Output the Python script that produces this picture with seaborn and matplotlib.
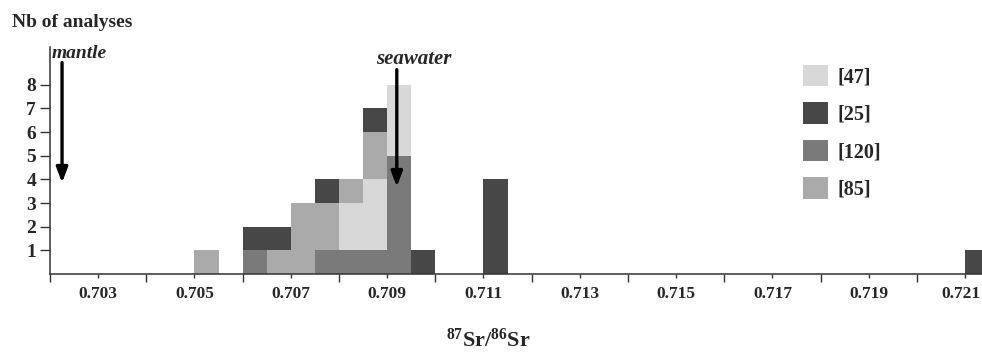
import pandas as pd
import matplotlib.pyplot as plt
import matplotlib.transforms as mtransforms
import numpy as np
import seaborn as sns
from matplotlib.patches import Patch

# left edge of each 0.0005 bin and the number of analyses per group
bin_left = [0.7050, 0.7060, 0.7065, 0.7070, 0.7075, 0.7080, 0.7085, 0.7090, 0.7095, 0.7110, 0.7210]
n47 = [0, 0, 0, 0, 0, 2, 3, 3, 0, 0, 0]
n25 = [0, 1, 1, 0, 1, 0, 1, 0, 1, 4, 1]
n120 = [0, 1, 0, 0, 1, 1, 1, 5, 0, 0, 0]
n85 = [1, 0, 1, 3, 2, 1, 2, 0, 0, 0, 0]

groups = ['[47]', '[25]', '[120]', '[85]']
colors = {'[47]': '#d8d8d8', '[25]': '#474747', '[120]': '#7a7a7a', '[85]': '#aaaaaa'}
ticks_lab = ['0.703', '0.705', '0.707', '0.709', '0.711', '0.713', '0.715', '0.717', '0.719', '0.721']

rows = []
for g, counts in zip(groups, [n47, n25, n120, n85]):
    for x, n in zip(bin_left, counts):
        if n > 0:
            rows.append({'sr': x + 0.00025, 'group': g, 'n': n})
df = pd.DataFrame(rows)

sns.set_style('ticks')
plt.rcParams['font.family'] = ['Liberation Serif', 'DejaVu Serif']
plt.rcParams['font.weight'] = 'bold'
plt.rcParams['mathtext.fontset'] = 'custom'
plt.rcParams['mathtext.rm'] = 'Liberation Serif:bold'
plt.rcParams['mathtext.it'] = 'Liberation Serif:italic:bold'

fig = plt.figure(figsize=(9.82, 3.52), dpi=100)
ax = fig.add_axes([50 / 982, 78 / 352, 932 / 982, 227 / 352])

# first hue level ends up on top of the stack
sns.histplot(data=df, x='sr', hue='group', weights='n', binwidth=0.0005,
             binrange=(0.702, 0.722), multiple='stack',
             hue_order=['[25]', '[85]', '[47]', '[120]'],
             palette=colors, alpha=1, linewidth=0,
             legend=False, ax=ax)

ax.set_xlim(0.702, 0.72135)
ax.set_ylim(0, 9.6)
ax.set_xlabel('')
ax.set_ylabel('')
ax.set_xticks([float(t) for t in ticks_lab])
ax.set_xticklabels(ticks_lab)
ax.set_xticks(np.linspace(0.702, 0.720, 10), minor=True)
ax.set_yticks(range(1, 9))
ax.tick_params(axis='x', which='major', length=3, width=1, pad=6, labelsize=12.5, color='#333333')
ax.tick_params(axis='x', which='minor', length=6, width=1, color='#333333')
ax.tick_params(axis='y', length=7, width=1, pad=3, labelsize=14, color='#333333')
for lab in ax.get_xticklabels() + ax.get_yticklabels():
    lab.set_fontweight('bold')
# keep the last label inside the picture
last = ax.get_xticklabels()[-1]
last.set_transform(last.get_transform() + mtransforms.ScaledTranslation(-4 / 100, 0, fig.dpi_scale_trans))
sns.despine(ax=ax)
for s in ['left', 'bottom']:
    ax.spines[s].set_color('#333333')
    ax.spines[s].set_linewidth(1.1)

# reference arrows
arrow = dict(arrowstyle='-|>,head_length=0.45,head_width=0.17', lw=2.4,
             color='black', mutation_scale=20, shrinkA=0, shrinkB=0)
ax.annotate('', xy=(0.70225, 3.86), xytext=(0.70225, 8.94), arrowprops=arrow)
ax.annotate('', xy=(0.7092, 3.69), xytext=(0.7092, 8.64), arrowprops=arrow)
ax.text(0.70204, 9.15, 'mantle', style='italic', fontweight='bold', fontsize=14,
        ha='left', va='baseline')
ax.text(0.70955, 8.86, 'seawater', style='italic', fontweight='bold', fontsize=15,
        ha='center', va='baseline')

fig.text(12 / 982, 1 - 27 / 352, 'Nb of analyses', fontsize=14, fontweight='bold',
         ha='left', va='baseline')
fig.text(488 / 982, 1 - 347 / 352, r'$\mathrm{^{87}Sr/^{86}Sr}$', fontsize=16,
         ha='center', va='baseline')

handles = [Patch(facecolor=colors[g], edgecolor='none') for g in groups]
fig.legend(handles, groups, loc='upper left', bbox_to_anchor=(803 / 982, 1 - 65 / 352),
           frameon=False, borderpad=0, borderaxespad=0, handlelength=1.24,
           handleheight=1.24, handletextpad=0.45, labelspacing=0.75,
           prop={'family': 'Liberation Serif', 'weight': 'bold', 'size': 14.5})

fig.savefig('out.png', dpi=100)
